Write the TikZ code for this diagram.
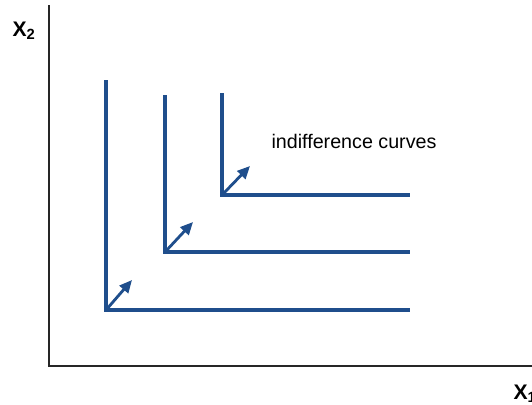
\documentclass[tikz,border=0pt]{standalone}
\usepackage{fontspec}
\setmainfont{Liberation Sans}
\usetikzlibrary{arrows.meta}
\definecolor{curveblue}{HTML}{1F4E8C}

\begin{document}
\begin{tikzpicture}[
    x=0.025cm, y=-0.025cm,
    >={Triangle[length=9pt, width=8pt]},
    axis/.style={line width=1.6pt, black!85},
    curve/.style={line width=2.2pt, curveblue},
    shiftarrow/.style={->, line width=2pt, curveblue, shorten <=2pt},
    axlabel/.style={font=\bfseries\fontsize{15}{17}\selectfont}
]
\useasboundingbox (0,0) rectangle (532,404);

% Ejes
\coordinate (origin) at (49,366);
\coordinate (ytop) at (49,5);
\coordinate (xend) at (540,366);
\draw[axis] (ytop) -- (origin) -- (xend);
\node[axlabel] (x2) at (24,31) {X\textsubscript{2}};
\node[axlabel] (x1) at (525,394) {X\textsubscript{1}};

% Curva 1
\coordinate (c1) at (106,310);
\draw[curve] (106,80) -- (c1) -- (410,310);
\coordinate (t1) at (132,280);
\draw[shiftarrow] (c1) -- (t1);

% Curva 2
\coordinate (c2) at (165,252);
\draw[curve] (165,95) -- (c2) -- (410,252);
\coordinate (t2) at (193,222);
\draw[shiftarrow] (c2) -- (t2);

% Curva 3
\coordinate (c3) at (222,195);
\draw[curve] (222,93) -- (c3) -- (410,195);
\coordinate (t3) at (250,166);
\draw[shiftarrow] (c3) -- (t3);

% Etiqueta
\node[font=\fontsize{14}{16}\selectfont] (lbl) at (354,141) {indifference curves};

\end{tikzpicture}
\end{document}
